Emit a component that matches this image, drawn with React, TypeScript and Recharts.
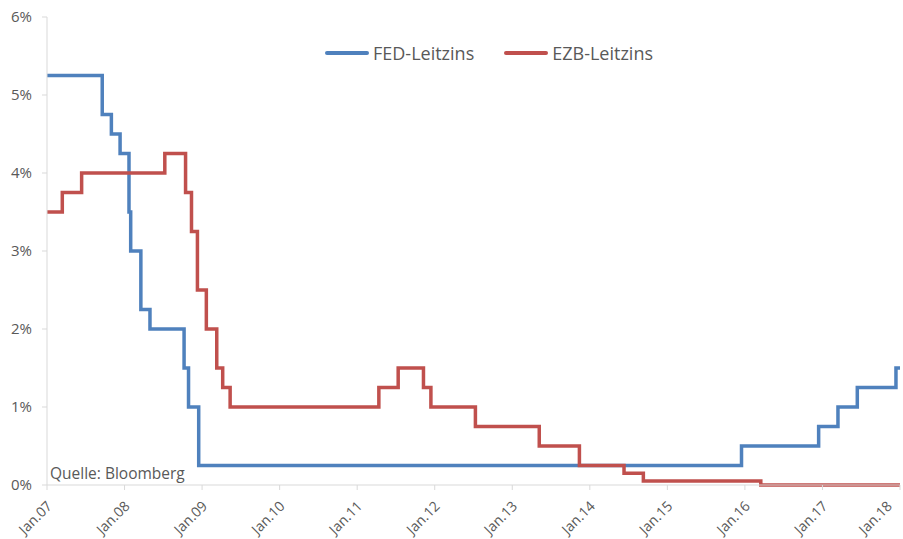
import { LineChart, Line, XAxis, YAxis } from "recharts";

const years = [2007, 2008, 2009, 2010, 2011, 2012, 2013, 2014, 2015, 2016, 2017, 2018];
const rateTicks = [0, 1, 2, 3, 4, 5, 6];

const fedDates = [
  "2007-01-01", "2007-09-18", "2007-10-31", "2007-12-11", "2008-01-22",
  "2008-01-30", "2008-03-18", "2008-04-30", "2008-10-08", "2008-10-29",
  "2008-12-16", "2015-12-16", "2016-12-14", "2017-03-15", "2017-06-14",
  "2017-12-13", "2018-01-01",
];
const fedRates = [
  5.25, 4.75, 4.5, 4.25, 3.5, 3.0, 2.25, 2.0, 1.5, 1.0, 0.25, 0.5, 0.75, 1.0,
  1.25, 1.5, 1.5,
];

const ecbDates = [
  "2007-01-01", "2007-03-14", "2007-06-13", "2008-07-09", "2008-10-15",
  "2008-11-12", "2008-12-10", "2009-01-21", "2009-03-11", "2009-04-08",
  "2009-05-13", "2011-04-13", "2011-07-13", "2011-11-09", "2011-12-14",
  "2012-07-11", "2013-05-08", "2013-11-13", "2014-06-11", "2014-09-10",
  "2016-03-16", "2018-01-01",
];
const ecbRates = [
  3.5, 3.75, 4.0, 4.25, 3.75, 3.25, 2.5, 2.0, 1.5, 1.25, 1.0, 1.25, 1.5, 1.25,
  1.0, 0.75, 0.5, 0.25, 0.15, 0.05, 0.0, 0.0,
];

const FED_COLOR = "#4f81bd";
const ECB_COLOR = "#c0504d";
const TEXT_COLOR = "#595959";
const FONT = "'Open Sans', 'Liberation Sans', sans-serif";

function toYear(date: string): number {
  const [y, m, d] = date.split("-").map(Number);
  const start = Date.UTC(y, 0, 1);
  const end = Date.UTC(y + 1, 0, 1);
  return y + (Date.UTC(y, m - 1, d) - start) / (end - start);
}

const fedData = fedDates.map((d, i) => ({ t: toYear(d), rate: fedRates[i] }));
const ecbData = ecbDates.map((d, i) => ({ t: toYear(d), rate: ecbRates[i] }));

function YearTick({ x, y, payload }: any) {
  const label = "Jan." + String(payload.value).slice(2);
  return (
    <g transform={`translate(${x + 6},${y + 17})`}>
      <text
        x={0}
        y={0}
        textAnchor="end"
        transform="rotate(-45)"
        fill={TEXT_COLOR}
        fontSize={14}
        fontFamily={FONT}
      >
        {label}
      </text>
    </g>
  );
}

function LegendItem({ color, label }: { color: string; label: string }) {
  return (
    <div style={{ display: "flex", alignItems: "center" }}>
      <div
        style={{ width: 44, height: 4, borderRadius: 2, background: color, marginRight: 4 }}
      />
      <span style={{ fontSize: 18, color: TEXT_COLOR, fontFamily: FONT }}>{label}</span>
    </div>
  );
}

export default function App() {
  return (
    <div style={{ position: "absolute", left: 0, top: 0, width: 903, height: 539, background: "#fff" }}>
      <LineChart
        width={903}
        height={539}
        margin={{ top: 17, right: 3, bottom: 0, left: 0 }}
      >
        <XAxis
          dataKey="t"
          type="number"
          domain={[2007, 2018]}
          ticks={years}
          allowDuplicatedCategory={false}
          height={54}
          tickSize={5}
          tickMargin={0}
          stroke="#d9d9d9"
          tick={<YearTick />}
        />
        <YAxis
          type="number"
          domain={[0, 6]}
          ticks={rateTicks}
          width={47}
          tickSize={5}
          tickMargin={10}
          stroke="#d9d9d9"
          tickFormatter={(v) => `${v}%`}
          tick={{ fill: TEXT_COLOR, fontSize: 15, fontFamily: FONT }}
        />
        <Line
          data={fedData}
          dataKey="rate"
          type="stepAfter"
          stroke={FED_COLOR}
          strokeWidth={3.5}
          dot={false}
          isAnimationActive={false}
        />
        <Line
          data={ecbData}
          dataKey="rate"
          type="stepAfter"
          stroke={ECB_COLOR}
          strokeWidth={3.5}
          dot={false}
          isAnimationActive={false}
        />
      </LineChart>
      <div
        style={{ position: "absolute", left: 325, top: 41, display: "flex", gap: 30 }}
      >
        <LegendItem color={FED_COLOR} label="FED-Leitzins" />
        <LegendItem color={ECB_COLOR} label="EZB-Leitzins" />
      </div>
      <div
        style={{
          position: "absolute",
          left: 50,
          top: 462,
          fontSize: 15.5,
          color: TEXT_COLOR,
          fontFamily: FONT,
        }}
      >
        Quelle: Bloomberg
      </div>
    </div>
  );
}
